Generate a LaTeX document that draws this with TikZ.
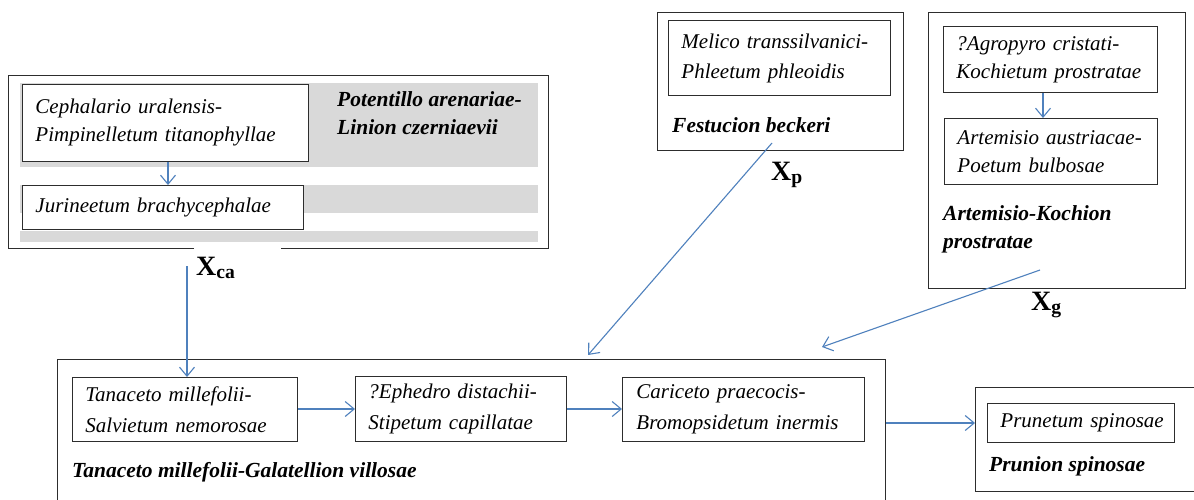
\documentclass[tikz,border=0pt]{standalone}
\usepackage{fontspec}
\setmainfont{Liberation Serif}
\usetikzlibrary{arrows.meta}
\definecolor{flow}{RGB}{79,129,189}
\definecolor{band}{RGB}{217,217,217}
\definecolor{edge}{RGB}{45,45,45}

\begin{document}
\begin{tikzpicture}[x=1pt,y=-1pt,
  frame/.style={draw=edge, line width=0.9pt},
  group/.style={frame, anchor=north west, inner sep=0pt},
  assoc/.style={frame, anchor=north west, inner xsep=13pt, inner ysep=0pt,
    align=left, font=\fontsize{21}{28}\selectfont\itshape},
  alliance/.style={inner sep=0pt, align=left,
    font=\fontsize{21.5}{28}\selectfont\bfseries\itshape},
  xlab/.style={inner sep=0pt, font=\fontsize{28}{30}\selectfont\bfseries},
  flowline/.style={draw=flow, line width=1.1pt,
    -{Straight Barb[length=9pt,width=15pt,line width=1.1pt]}}
]
\clip (0,0) rectangle (1194,499);
\fill[white] (0,0) rectangle (1194,499);

% Potentillo arenariae-Linion czerniaevii: shaded bands and outer frame
\fill[band] (20,83) rectangle (538,167);
\fill[band] (20,185) rectangle (538,213);
\fill[band] (20,231) rectangle (538,242);
\draw[frame] (194,248) -- (8,248) -- (8,75) -- (548,75) -- (548,248) -- (281,248);

\node[assoc, fill=white, text width=260pt, minimum height=77pt] (ceph) at (22,84)
  {\mbox{Cephalario uralensis-}\\\mbox{Pimpinelletum titanophyllae}};
\node[assoc, fill=white, text width=255pt, minimum height=44pt] (jur) at (22,185)
  {\mbox{Jurineetum brachycephalae}};
\node[alliance, anchor=west] (potentillo) at (337,113.5)
  {Potentillo arenariae-\\Linion czerniaevii};
\node[xlab, anchor=west] (xca) at (196,268) {X\textsubscript{ca}};

% Festucion beckeri
\node[group, minimum width=246pt, minimum height=138pt] (festucion) at (657,12) {};
\node[assoc, text width=196pt, minimum height=75pt,
  font=\fontsize{21}{30}\selectfont\itshape] (melico) at (668,20)
  {\mbox{Melico transsilvanici-}\\\mbox{Phleetum phleoidis}};
\node[alliance, anchor=west] (festlab) at (672,125) {Festucion beckeri};
\node[xlab, anchor=west] (xp) at (771,175) {X\textsubscript{p}};

% Artemisio-Kochion prostratae
\node[group, minimum width=257pt, minimum height=276pt] (kochion) at (928,12) {};
\node[assoc, text width=188pt, minimum height=66pt] (agro) at (943,26)
  {\mbox{?Agropyro cristati-}\\\mbox{Kochietum prostratae}};
\node[assoc, text width=187pt, minimum height=66pt] (artaus) at (944,118)
  {\mbox{Artemisio austriacae-}\\\mbox{Poetum bulbosae}};
\node[alliance, anchor=west] (kochlab) at (943,229)
  {Artemisio-Kochion\\prostratae};
\node[xlab, anchor=west] (xg) at (1031,305) {X\textsubscript{g}};

% Tanaceto millefolii-Galatellion villosae
\node[group, minimum width=828pt, minimum height=150pt] (galatellion) at (57,359) {};
\node[assoc, text width=199pt, minimum height=64pt,
  font=\fontsize{21}{31}\selectfont\itshape] (tan) at (72,377)
  {\mbox{Tanaceto millefolii-}\\\mbox{Salvietum nemorosae}};
\node[assoc, text width=185pt, minimum height=65pt,
  font=\fontsize{21}{31}\selectfont\itshape] (eph) at (355,376)
  {\mbox{?Ephedro distachii-}\\\mbox{Stipetum capillatae}};
\node[assoc, text width=214pt, minimum height=64pt, inner xsep=14pt,
  font=\fontsize{21}{31}\selectfont\itshape] (car) at (622,377)
  {\mbox{Cariceto praecocis-}\\\mbox{Bromopsidetum inermis}};
\node[alliance, anchor=west] (galab) at (72,472)
  {Tanaceto millefolii-Galatellion villosae};

% Prunion spinosae
\node[group, minimum width=230pt, minimum height=104pt] (prunion) at (975,387) {};
\node[assoc, text width=161pt, minimum height=39pt] (prun) at (987,403)
  {\mbox{Prunetum spinosae}};
\node[alliance, anchor=west] (prunlab) at (989,466) {Prunion spinosae};

% connectors
\coordinate (xcatail) at (187,266);
\coordinate (festail) at (772,143);
\coordinate (feshead) at (588,355);
\coordinate (kochtail) at (1040,270);
\coordinate (kochhead) at (822,347);

\draw[flowline] (ceph.south -| 168,0) -- (jur.north -| 168,0);
\draw[flowline] (agro.south -| 1043,0) -- (artaus.north -| 1043,0);
\draw[flowline] (xcatail) -- (tan.north -| xcatail);
\draw[flowline] (festail) -- (feshead);
\draw[flowline] (kochtail) -- (kochhead);
\draw[flowline] (tan.east |- 0,409) -- (eph.west |- 0,409);
\draw[flowline] (eph.east |- 0,409) -- (car.west |- 0,409);
\draw[flowline] (galatellion.east |- 0,423) -- (prunion.west |- 0,423);
\end{tikzpicture}
\end{document}
